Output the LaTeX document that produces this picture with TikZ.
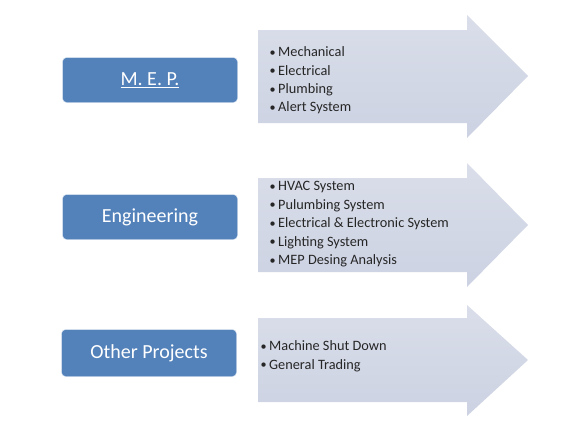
\documentclass[tikz,border=0pt]{standalone}
\usepackage{fontspec}
\setmainfont{Carlito}
\definecolor{catblue}{RGB}{83,129,186}
\definecolor{arrowlight}{RGB}{218,222,234}
\definecolor{arrowdark}{RGB}{204,210,226}
\newcommand{\itm}{\makebox[8.5pt][l]{\raisebox{0.4pt}{\scalebox{0.85}{\textbullet}}}}

\begin{document}
\begin{tikzpicture}[x=1pt, y=-1pt,
        catbox/.style={draw=white!85!catblue, fill=catblue, rounded corners=4pt, minimum width=175pt, minimum height=45pt, text=white, font=\fontsize{20}{24}\selectfont},
        bigarrow/.style={top color=arrowlight, bottom color=arrowdark},
        items/.style={anchor=north west, align=left, inner sep=0pt, text=black!85, font=\fontsize{14.3}{18.4}\selectfont}
    ]
        \useasboundingbox (0,0) rectangle (581,429);

        % arrows
        \path[bigarrow] (258,30) -- (467,30) -- (467,15) -- (528,76) -- (467,138) -- (467,123) -- (258,123) -- cycle;
        \path[bigarrow] (258,178) -- (467,178) -- (467,163) -- (528,225) -- (467,287) -- (467,272) -- (258,272) -- cycle;
        \path[bigarrow] (258,318) -- (467,318) -- (467,305) -- (528,360) -- (467,416) -- (467,402) -- (258,402) -- cycle;

        % categories
        \node[catbox] (mep) at (150,80) {\underline{M. E. P.}};
        \node[catbox] (eng) at (150,217) {Engineering};
        \node[catbox, minimum height=47pt] (other) at (149,353) {Other Projects};

        % item lists
        \node[items] (mepitems) at (269.5,46.5) {\itm Mechanical\\\itm Electrical\\\itm Plumbing\\\itm Alert System};
        \node[items] (engitems) at (269.5,181.5) {\itm HVAC System\\\itm Pulumbing System\\\itm Electrical \& Electronic System\\\itm Lighting System\\\itm MEP Desing Analysis};
        \node[items] (otheritems) at (260.5,340.5) {\itm Machine Shut Down\\\itm General Trading};
    \end{tikzpicture}
\end{document}
